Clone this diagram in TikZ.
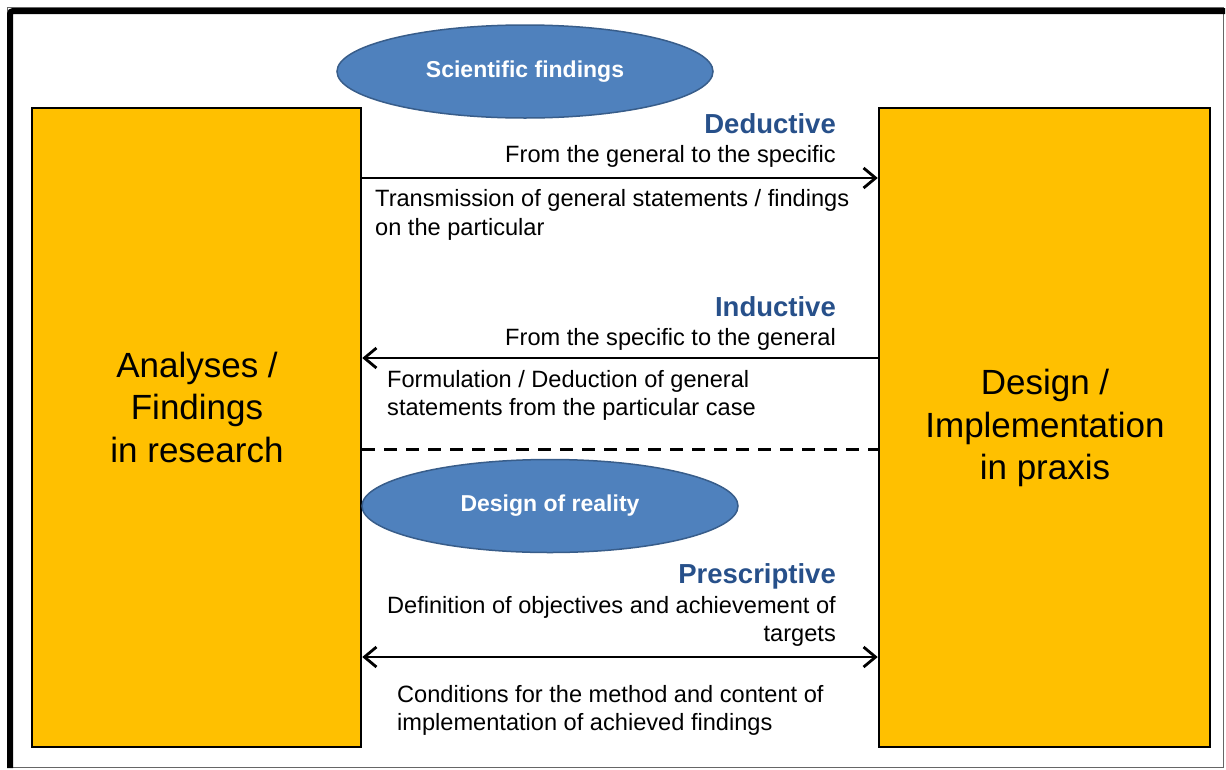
\documentclass[tikz,border=0pt]{standalone}
\usepackage{fontspec}
\setmainfont{Liberation Sans}
\usetikzlibrary{arrows.meta,shapes.geometric}
\definecolor{boxfill}{HTML}{FFC000}
\definecolor{ellfill}{HTML}{4F81BD}
\definecolor{elldraw}{HTML}{385D8A}
\definecolor{titleblue}{HTML}{27508A}
\begin{document}
\begin{tikzpicture}[x=1pt,y=-1pt,
  bigbox/.style={draw=black,line width=2.5pt,fill=boxfill,inner sep=0pt},
  bigtext/.style={align=center,inner sep=0pt,font=\fontsize{35}{42.5}\selectfont},
  oval/.style={ellipse,draw=elldraw,line width=1.5pt,fill=ellfill,inner sep=0pt,text=white,
    minimum width=376pt,minimum height=93pt,font=\fontsize{23}{27}\selectfont\bfseries},
  heading/.style={anchor=base east,inner sep=0pt,text=titleblue,font=\fontsize{27.5}{33}\selectfont\bfseries},
  bodyR/.style={anchor=base east,inner sep=0pt,font=\fontsize{23.6}{29}\selectfont},
  bodyL/.style={anchor=base west,inner sep=0pt,font=\fontsize{23.6}{29}\selectfont},
  conn/.style={line width=2.8pt,arrows={-Straight Barb[length=12pt,width=20pt]}},
  connboth/.style={line width=2.8pt,arrows={Straight Barb[length=12pt,width=20pt]-Straight Barb[length=12pt,width=20pt]}},
  divider/.style={line width=3pt,dash pattern=on 13pt off 9pt},
]
\useasboundingbox (0,0) rectangle (1226,769);
\fill[white] (0,0) rectangle (1226,769);

% outer frame
\draw[gray!80!black, line width=1pt] (7.5,7.5) rectangle (1223.5,767.5);
\draw[line width=6pt, rounded corners=3pt] (10,768) -- (10,11) -- (1225,11);

% boxes
\node[bigbox, minimum width=329pt, minimum height=639pt] (lbox) at (196.5,427.5) {};
\node[bigbox, minimum width=331pt, minimum height=639pt] (rbox) at (1044.5,427.5) {};
\node[bigtext] (ltext) at (197,407) {Analyses /\\Findings\\in research};
\node[bigtext] (rtext) at (1045,428) {Design /\\Implementation\\in praxis};

% ellipses
\node[oval] (sci) at (525,71.5) {Scientific findings};
\node[oval] (dor) at (550,506) {Design of reality};

% deductive
\node[heading] (ded) at (836,133) {Deductive};
\node[bodyR] (ded1) at (836,162) {From the general to the specific};
\node[bodyL] (ded2) at (375,206) {Transmission of general statements / findings};
\node[bodyL] (ded3) at (375,235) {on the particular};
\draw[conn] (lbox.east |- 0,178) -- (rbox.west |- 0,178);

% inductive
\node[heading] (ind) at (836,316) {Inductive};
\node[bodyR] (ind1) at (836,345) {From the specific to the general};
\node[bodyL] (ind2) at (387,387) {Formulation / Deduction of general};
\node[bodyL] (ind3) at (387,415) {statements from the particular case};
\draw[conn] (rbox.west |- 0,358) -- (lbox.east |- 0,358);

% divider
\draw[divider] (lbox.east |- 0,449) -- (rbox.west |- 0,449);

% prescriptive
\node[heading] (pre) at (836,583) {Prescriptive};
\node[bodyR] (pre1) at (836,613) {Definition of objectives and achievement of};
\node[bodyR] (pre2) at (836,641) {targets};
\node[bodyL] (pre3) at (397,702) {Conditions for the method and content of};
\node[bodyL] (pre4) at (397,730) {implementation of achieved findings};
\draw[connboth] (lbox.east |- 0,657) -- (rbox.west |- 0,657);
\end{tikzpicture}
\end{document}
